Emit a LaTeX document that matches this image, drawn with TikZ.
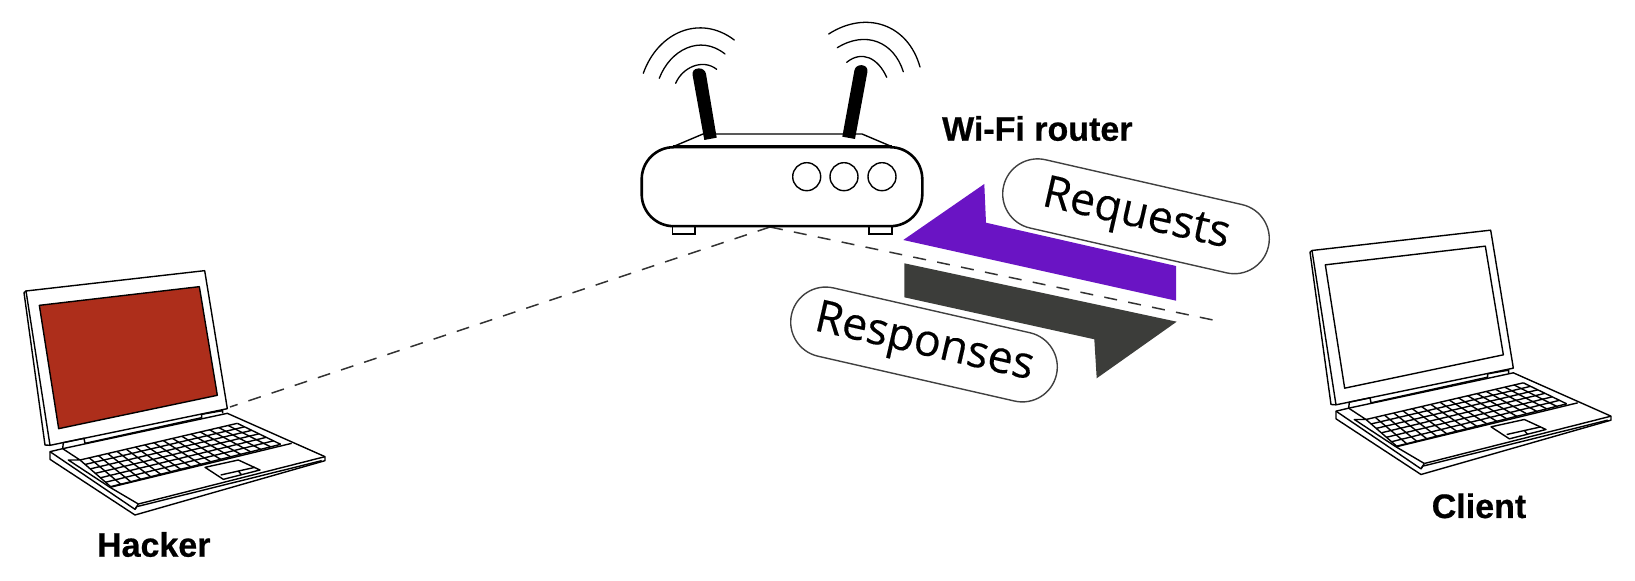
\documentclass[tikz,border=0pt]{standalone}
\usepackage{fontspec}
\setmainfont{Liberation Sans}
\newfontfamily\pillfont[FakeBold=0.25]{Open Sans}
\newfontfamily\labelfont[FakeBold=0.6]{Liberation Sans Bold}
\usetikzlibrary{calc, positioning, shapes.misc}
\definecolor{hackerred}{HTML}{AD2E1B}
\definecolor{reqpurple}{HTML}{6A14C4}
\definecolor{respgray}{HTML}{3C3D3A}
\tikzset{
    pill/.style={draw=black!75,line width=0.7pt,fill=white,rounded rectangle,
        minimum width=142.5pt,minimum height=35pt,rotate=-12.85,
        font=\pillfont\fontsize{22.3}{22.3}\selectfont},
    devlabel/.style={anchor=base,font=\labelfont\fontsize{17}{17}\selectfont},
    wave/.style={line width=0.65pt,line cap=round},
    link/.style={draw=black!80,line width=0.75pt,dash pattern=on 6.5pt off 5.7pt},
    pics/laptop/.style={code={
        \begin{scope}[x=0.16667pt,y=-0.16667pt,line width=0.7pt,line join=round]
        % lid
        \draw (78,123) -- (614,62) -- (682,476) -- (150,586) -- cycle;
        \draw (78,123) -- (72,128) -- (135,585) -- (150,586);
        \draw[fill=#1] (118,166) -- (598,110) -- (652,436) -- (176,536) -- cycle;
        % hinge
        \draw (190,578) -- (252,565) -- (255,580) -- (605,503) -- (605,493) -- (668,482) -- (668,490);
        \draw (190,578) -- (188,596);
        % base
        \draw (150,605) -- (188,596) -- (682,490) -- (975,620) -- (975,632) -- (405,795) -- (150,628) -- cycle;
        \draw (150,605) -- (405,778) -- (415,762);
        \draw (405,778) -- (410,770) -- (965,632);
        \draw (415,762) -- (975,620);
        \draw (188,596) -- (240,630) -- (205,630) -- (330,712) -- (415,762);
        \draw (330,712) -- (875,580);
        % keyboard
        \coordinate (kb1) at (240,630);
        \coordinate (kb2) at (712,520);
        \coordinate (kb3) at (842,583);
        \coordinate (kb4) at (332,710);
        \foreach \t in {0,...,6}
            \draw ($(kb1)!\t/6!(kb4)$) -- ($(kb2)!\t/6!(kb3)$);
        \foreach \t in {0,...,17}
            \draw ($(kb1)!\t/17!(kb2)$) -- ($(kb4)!\t/17!(kb3)$);
        % touchpad
        \draw[fill=white] (615,652) -- (715,630) -- (780,660) -- (670,688) -- cycle;
        \draw (662,675) -- (765,652) (715,663) -- (725,675);
        \end{scope}
    }},
}
\begin{document}
\begin{tikzpicture}[x=0.5pt,y=-0.5pt]
    \useasboundingbox (0,0) rectangle (1635,581);

    % connectors
    \coordinate (routerport) at (770,227);
    \coordinate (hackerport) at (230,407);
    \coordinate (linkend) at (1213,320);
    \draw[link] (routerport) -- (hackerport);
    \draw[link] (routerport) -- (linkend);

    % laptops
    \pic (hacker) at (0,250) {laptop=hackerred};
    \pic (client) at (1286,209.5) {laptop=white};
    \node[devlabel] (hackerlabel) at (153.8,556.7) {Hacker};
    \node[devlabel] (clientlabel) at (1479,518) {Client};

    % router
    \draw[line width=0.7pt] (673,146.7) -- (703,134) -- (862,134) -- (892,146.7);
    \fill (704.3,140) -- (716.7,137.7) [rounded corners=3pt] -- (705,68) -- (691.5,69) [sharp corners] -- cycle;
    \fill (842.3,136.7) -- (855,139) [rounded corners=3pt] -- (868.5,66) -- (855.5,64.5) [sharp corners] -- cycle;
    \draw[line width=0.7pt] (672.7,226) rectangle (695,234);
    \draw[line width=0.7pt] (869,226) rectangle (892,234);
    \node[draw,fill=white,line width=1.3pt,rounded corners=16pt,minimum width=140.3pt,minimum height=39.5pt,
        inner sep=0pt] (router) at (782,186.7) {};
    \draw[line width=1.7pt] (673,146.7) -- (892,146.7);
    \foreach \cx in {806.7,844,882}
        \draw[line width=0.7pt] (\cx,176.7) circle (7pt);

    % signal waves
    \draw[wave] (675.7,83.3) .. controls (682,68) and (702,58) .. (716.7,69.3);
    \draw[wave] (659.3,78.3) .. controls (670,50) and (700,34) .. (725,54);
    \draw[wave] (643.3,73.3) .. controls (658,32) and (700,14) .. (734.3,40);
    \draw[wave] (846.7,62.3) .. controls (862,50) and (878,58) .. (886.7,77.3);
    \draw[wave] (837.3,47.7) .. controls (866,30) and (894,42) .. (903.3,71.7);
    \draw[wave] (828.7,34) .. controls (866,10) and (908,24) .. (920,67);

    % traffic arrows
    \fill[reqpurple] (903.3,240) -- (984.3,184) -- (986,222.7) -- (1176,266) -- (1176,300.7) -- cycle;
    \fill[respgray] (904.3,263.3) -- (1176.7,321.7) -- (1096.7,378.3) -- (1094.3,339.3) -- (904.3,297.3) -- cycle;

    % labels
    \node[pill] (requests) at (1136,216.3) {Requests};
    \node[pill] (responses) at (924,344.5) {Responses};
    \node[devlabel] (routerlabel) at (1037.3,140.7) {Wi-Fi router};
\end{tikzpicture}
\end{document}
